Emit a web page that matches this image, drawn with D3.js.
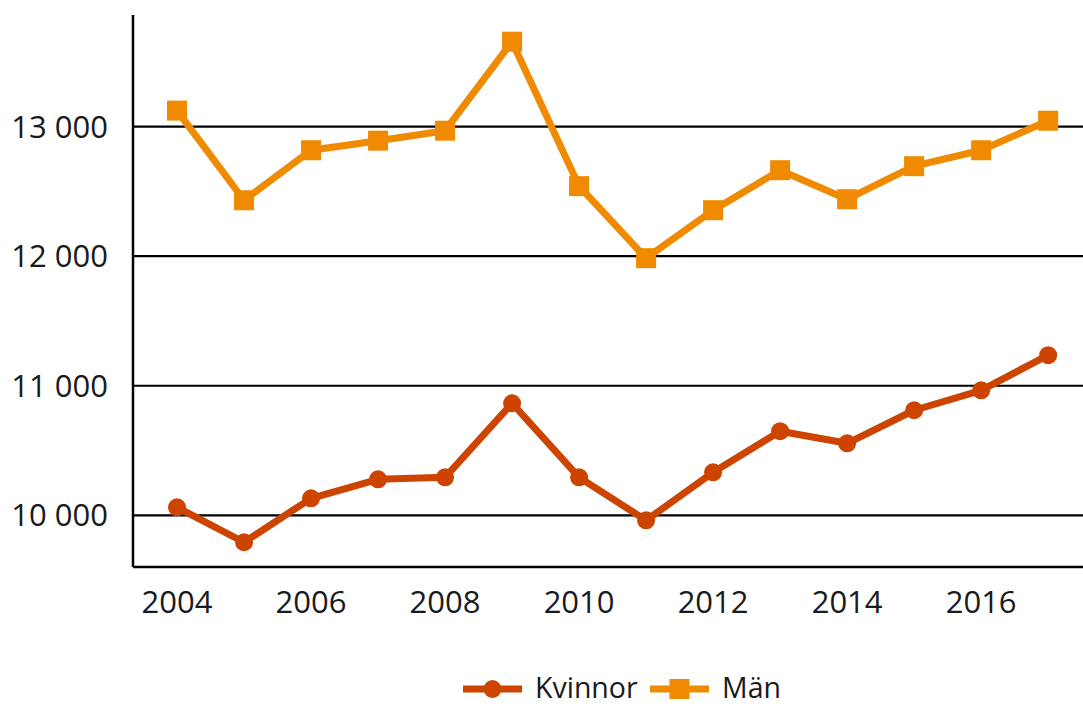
<!DOCTYPE html>
<html>
<head>
<meta charset="utf-8">
<script src="https://cdn.jsdelivr.net/npm/d3@7.9.0/dist/d3.min.js"></script>
<style>
  html, body { margin: 0; padding: 0; background: #fff; }
  svg { display: block; font-family: "Open Sans", sans-serif; }
</style>
</head>
<body>
<div id="chart"></div>
<script>
/* data */
const years = [2004, 2005, 2006, 2007, 2008, 2009, 2010, 2011, 2012, 2013, 2014, 2015, 2016, 2017];
const kvinnor = [10062, 9792, 10131, 10278, 10293, 10865, 10293, 9961, 10332, 10649, 10556, 10811, 10965, 11236];
const man = [13124, 12432, 12818, 12892, 12969, 13656, 12541, 11985, 12355, 12664, 12440, 12695, 12818, 13046];
const yTicks = [10000, 11000, 12000, 13000];
const xTicks = [2004, 2006, 2008, 2010, 2012, 2014, 2016];
const seriesNames = ['Kvinnor', 'Män'];
const seriesColors = ['#cc4400', '#f08a00'];

const width = 1083;
const height = 706;

const svg = d3.select('#chart')
  .append('svg')
  .attr('width', width)
  .attr('height', height);

/* scales */
const x = d3.scaleLinear()
  .domain([2003.343, 2017.52])
  .range([133, 1083]);

const y = d3.scaleLinear()
  .domain([9601, 13862])
  .range([567, 15]);

const fmt = d => d3.format(',')(d).replace(',', ' ');

/* gridlines */
svg.append('g')
  .selectAll('line')
  .data(yTicks)
  .join('line')
  .attr('x1', 133)
  .attr('x2', width)
  .attr('y1', d => y(d))
  .attr('y2', d => y(d))
  .attr('stroke', '#000')
  .attr('stroke-width', 2.2);

/* y labels */
svg.append('g')
  .selectAll('text')
  .data(yTicks)
  .join('text')
  .attr('x', 108)
  .attr('y', d => y(d))
  .attr('dy', '0.35em')
  .attr('text-anchor', 'end')
  .attr('font-size', 31)
  .attr('fill', '#1a1a1a')
  .text(fmt);

/* axes lines */
svg.append('line')
  .attr('x1', 133).attr('x2', 133)
  .attr('y1', 15).attr('y2', 567)
  .attr('stroke', '#000').attr('stroke-width', 2.5);

svg.append('line')
  .attr('x1', 133).attr('x2', width)
  .attr('y1', 567).attr('y2', 567)
  .attr('stroke', '#000').attr('stroke-width', 2.5);

/* x labels */
svg.append('g')
  .selectAll('text')
  .data(xTicks)
  .join('text')
  .attr('x', d => x(d))
  .attr('y', 613)
  .attr('text-anchor', 'middle')
  .attr('font-size', 31)
  .attr('fill', '#1a1a1a')
  .text(d => d);

/* lines */
const line = d3.line()
  .x((d, i) => x(years[i]))
  .y(d => y(d));

const series = [kvinnor, man];

series.forEach((vals, si) => {
  svg.append('path')
    .datum(vals)
    .attr('d', line)
    .attr('fill', 'none')
    .attr('stroke', seriesColors[si])
    .attr('stroke-width', 7)
    .attr('stroke-linejoin', 'round');
});

/* markers */
svg.append('g')
  .selectAll('circle')
  .data(kvinnor)
  .join('circle')
  .attr('cx', (d, i) => x(years[i]))
  .attr('cy', d => y(d))
  .attr('r', 9)
  .attr('fill', seriesColors[0]);

svg.append('g')
  .selectAll('rect')
  .data(man)
  .join('rect')
  .attr('x', (d, i) => x(years[i]) - 10)
  .attr('y', d => y(d) - 10)
  .attr('width', 20)
  .attr('height', 20)
  .attr('fill', seriesColors[1]);

/* legend */
const legend = svg.append('g').attr('transform', 'translate(0,689)');
const legendItems = [
  { name: seriesNames[0], x0: 463, shape: 'circle' },
  { name: seriesNames[1], x0: 650, shape: 'rect' }
];

legendItems.forEach((item, i) => {
  const g = legend.append('g').attr('transform', `translate(${item.x0},0)`);
  g.append('line')
    .attr('x1', 0).attr('x2', 59)
    .attr('y1', 0).attr('y2', 0)
    .attr('stroke', seriesColors[i])
    .attr('stroke-width', 7);
  if (item.shape === 'circle') {
    g.append('circle').attr('cx', 29.5).attr('cy', 0).attr('r', 9).attr('fill', seriesColors[i]);
  } else {
    g.append('rect').attr('x', 19.5).attr('y', -10).attr('width', 20).attr('height', 20).attr('fill', seriesColors[i]);
  }
  g.append('text')
    .attr('x', 72)
    .attr('y', 8.5)
    .attr('font-size', 28.5)
    .attr('fill', '#1a1a1a')
    .text(item.name);
});
</script>
</body>
</html>
